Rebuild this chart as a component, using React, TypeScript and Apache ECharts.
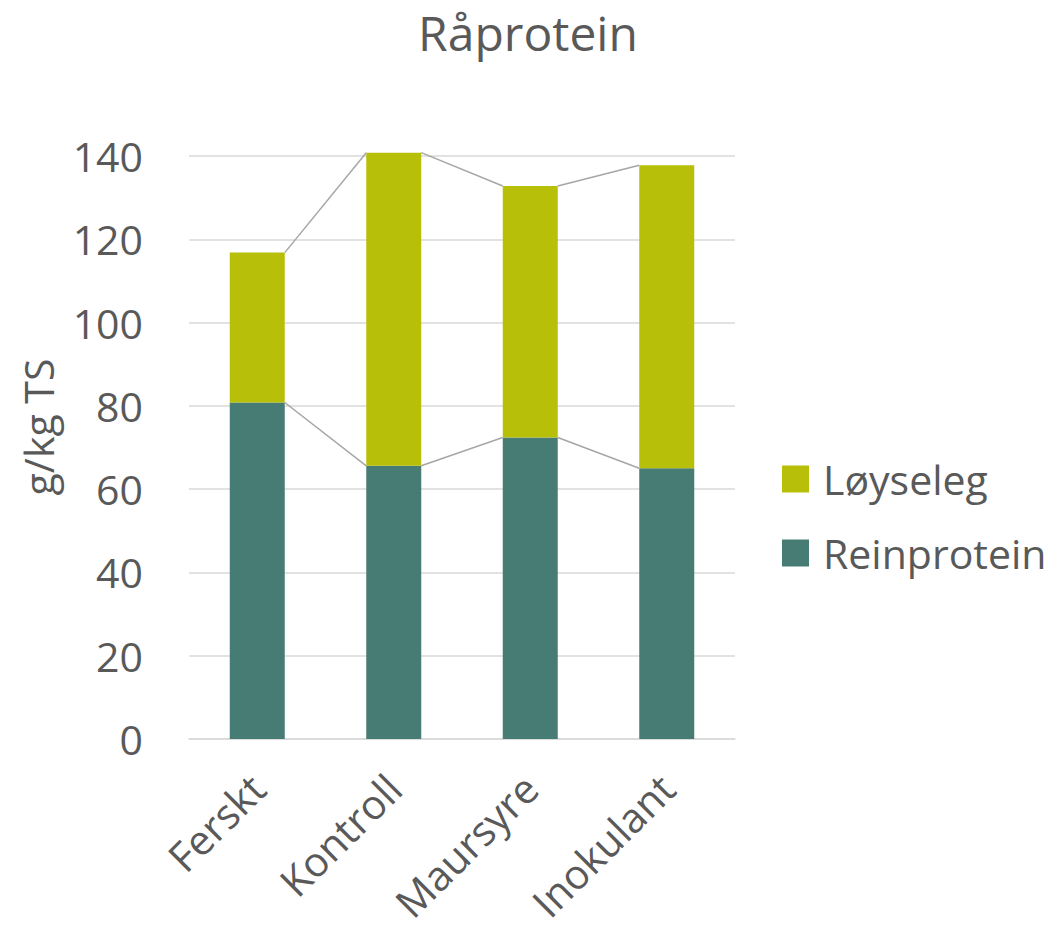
import React, { useEffect, useRef } from "react";
import * as echarts from "echarts";

const categories = ["Ferskt", "Kontroll", "Maursyre", "Inokulant"];
const reinprotein = [80.8, 65.6, 72.4, 65.0];
const loyseleg = [36.0, 75.2, 60.4, 72.8];
const yTicks = { min: 0, max: 140, interval: 20 };

const FONT = "'Open Sans', 'Noto Sans', sans-serif";
const TEXT = "#595959";
const C_LOY = "#B8BF08";
const C_REIN = "#467C73";
const BAR_W = 55;

export default function App() {
  const ref = useRef<HTMLDivElement>(null);
  useEffect(() => {
    if (!ref.current) return;
    const chart = echarts.init(ref.current, null, { renderer: "svg" });
    const totals = reinprotein.map((v, i) => v + loyseleg[i]);
    const linkData = categories.slice(0, -1).map((_, i) => [i, reinprotein[i]]);
    chart.setOption({
      animation: false,
      textStyle: { fontFamily: FONT },
      title: {
        text: "Råprotein",
        left: "center",
        top: 6,
        padding: 0,
        textStyle: { fontFamily: FONT, fontSize: 48, lineHeight: 52, fontWeight: "normal", color: TEXT },
      },
      legend: {
        orient: "vertical",
        left: 782,
        top: 455,
        padding: 0,
        itemWidth: 27,
        itemHeight: 27,
        itemGap: 26,
        icon: "rect",
        data: ["Løyseleg", "Reinprotein"],
        textStyle: { fontFamily: FONT, fontSize: 41, color: TEXT, padding: [0, 0, 0, 9], lineHeight: 48 },
      },
      grid: { left: 189, right: 321, top: 156, bottom: 193, containLabel: false },
      xAxis: {
        type: "category",
        data: categories,
        axisLine: { lineStyle: { color: "#D9D9D9", width: 1.5 } },
        axisTick: { show: false },
        axisLabel: { rotate: 45, fontSize: 41, color: TEXT, margin: 42, fontFamily: FONT },
      },
      yAxis: {
        type: "value",
        min: yTicks.min,
        max: yTicks.max,
        interval: yTicks.interval,
        axisLine: { show: false },
        axisTick: { show: false },
        splitLine: { lineStyle: { color: "#D9D9D9", width: 1.5 } },
        axisLabel: { fontSize: 41, color: TEXT, margin: 46, fontFamily: FONT },
      },
      graphic: [
        {
          type: "text",
          x: 38,
          y: 427,
          rotation: Math.PI / 2,
          style: {
            text: "g/kg TS",
            fontSize: 41,
            fontFamily: FONT,
            fill: TEXT,
            textAlign: "center",
            textVerticalAlign: "middle",
          },
        },
      ],
      series: [
        {
          name: "Reinprotein",
          type: "bar",
          stack: "p",
          barWidth: BAR_W,
          clip: false,
          data: reinprotein,
          itemStyle: { color: C_REIN },
        },
        {
          name: "Løyseleg",
          type: "bar",
          stack: "p",
          barWidth: BAR_W,
          clip: false,
          data: loyseleg,
          itemStyle: { color: C_LOY },
        },
        {
          type: "custom",
          name: "serieslines",
          silent: true,
          clip: false,
          z: 5,
          data: linkData,
          renderItem: (params: any, api: any) => {
            const i = params.dataIndex;
            const half = BAR_W / 2;
            const mk = (vals: number[]) => {
              const a = api.coord([i, vals[i]]);
              const b = api.coord([i + 1, vals[i + 1]]);
              return {
                type: "line",
                shape: { x1: a[0] + half, y1: a[1], x2: b[0] - half, y2: b[1] },
                style: { stroke: "#A6A6A6", lineWidth: 1.5 },
              };
            };
            return { type: "group", children: [mk(reinprotein), mk(totals)] };
          },
        },
      ],
    });
    return () => chart.dispose();
  }, []);
  return (
    <div
      ref={ref}
      style={{ position: "fixed", left: 0, top: 0, width: 1056, height: 932, background: "#fff" }}
    />
  );
}
